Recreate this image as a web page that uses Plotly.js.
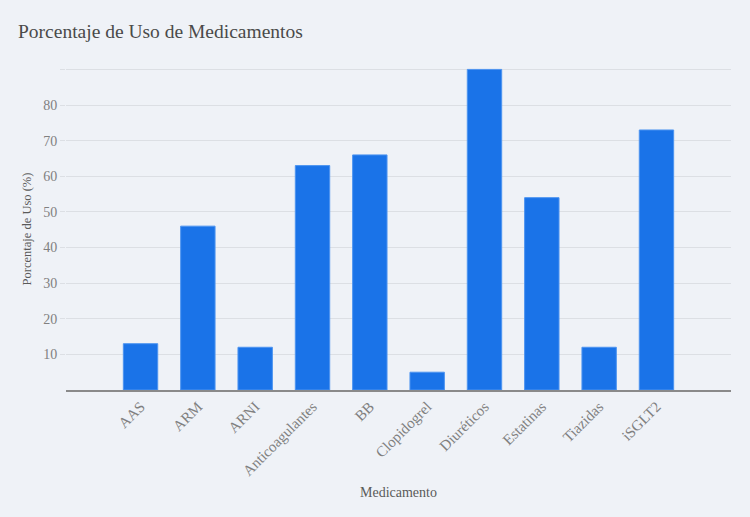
<!DOCTYPE html>
<html>
<head>
<meta charset="utf-8">
<script src="https://cdn.plot.ly/plotly-3.0.1.min.js"></script>
<style>html,body{margin:0;padding:0;background:#eff2f7;}#chart{width:750px;height:517px;}</style>
</head>
<body>
<div id="chart"></div>
<script>
const categories = ["AAS", "ARM", "ARNI", "Anticoagulantes", "BB", "Clopidogrel", "Diuréticos", "Estatinas", "Tiazidas", "iSGLT2"];
const values = [13, 46, 12, 63, 66, 5, 90, 54, 12, 73];
const yTickVals = [10, 20, 30, 40, 50, 60, 70, 80, 90];
const yTickText = ["10", "20", "30", "40", "50", "60", "70", "80", ""];

const trace = {
  type: "bar",
  x: categories,
  y: values,
  marker: {color: "#1a73e8", line: {color: "#4d94f0", width: 1}},
  hoverinfo: "x+y"
};

const layout = {
  width: 750, height: 517,
  paper_bgcolor: "#eff2f7", plot_bgcolor: "#eff2f7",
  font: {family: "Liberation Serif, Times New Roman, serif", color: "#666", size: 12},
  title: {text: "Porcentaje de Uso de Medicamentos", x: 0.024, xanchor: "left", y: 0.94, yanchor: "middle",
          font: {size: 19.5, color: "#4a4a4a", family: "Liberation Serif, serif"}},
  margin: {l: 66, r: 19, t: 68, b: 127, pad: 0},
  bargap: 0.4,
  showlegend: false,
  xaxis: {
    type: "category",
    range: [-1.3, 10.3],
    tickangle: -45,
    showgrid: false,
    zeroline: false,
    showline: true, linecolor: "#8a8a8a", linewidth: 2,
    ticks: "",
    tickfont: {size: 15, color: "#808080"},
    title: {text: "Medicamento", font: {size: 14, color: "#5a5a5a"}, standoff: 9},
    automargin: false
  },
  yaxis: {
    range: [0, 90.4],
    tickvals: yTickVals,
    ticktext: yTickText,
    showgrid: true, gridcolor: "#dcdfe4", gridwidth: 1,
    zeroline: false,
    showline: false,
    ticks: "outside", ticklen: 5, tickcolor: "#dcdfe4",
    tickfont: {size: 14, color: "#808080"},
    title: {text: "Porcentaje de Uso (%)", font: {size: 12.5, color: "#5a5a5a"}, standoff: 8},
    automargin: false
  }
};

Plotly.newPlot("chart", [trace], layout, {displayModeBar: false, staticPlot: true});
</script>
</body>
</html>
